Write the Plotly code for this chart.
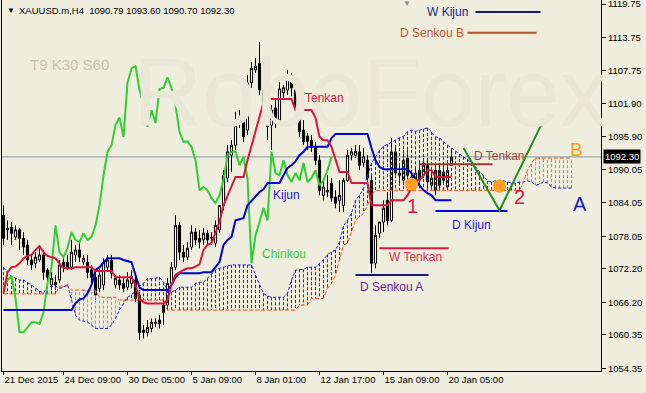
import plotly.graph_objects as go

# ---------------- data ----------------
bar_index = list(range(113))

opens = [
    1081.8, 1079.2, 1079.7, 1077.9, 1079.2, 1077.7, 1076.5, 1073.8, 1073.2, 1073.8,
    1074.7, 1072.0, 1069.3, 1069.8, 1070.2, 1073.4, 1073.4, 1072.5, 1074.7, 1075.6,
    1073.4, 1073.4, 1072.0, 1070.7, 1068.7, 1069.3, 1072.5, 1073.8, 1069.3, 1070.2,
    1069.6, 1068.9, 1069.6, 1070.2, 1067.5, 1061.2, 1060.8, 1061.5, 1062.4, 1063.0,
    1065.7, 1065.7, 1069.6, 1072.5, 1080.0, 1075.2, 1074.3, 1076.1, 1078.8, 1077.7,
    1077.4, 1078.6, 1077.7, 1076.8, 1079.2, 1083.6, 1088.5, 1092.6, 1094.4, 1098.4,
    1099.4, 1097.1, 1105.6, 1107.9, 1109.1, 1104.3, 1101.8, 1098.0, 1101.1, 1098.9,
    1103.8, 1104.3, 1106.6, 1104.3, 1101.6, 1097.1, 1096.0, 1095.3, 1094.1, 1091.7,
    1085.4, 1086.0, 1087.6, 1085.1, 1084.5, 1083.6, 1088.1, 1092.6, 1092.6, 1093.2,
    1091.2, 1091.7, 1088.1, 1073.2, 1078.6, 1080.6, 1084.5, 1080.9, 1093.2, 1089.4,
    1088.1, 1092.1, 1088.7, 1087.6, 1089.9, 1089.0, 1090.8, 1087.2, 1086.3, 1089.9,
    1089.6, 1086.9, 1090.79,
]
highs = [
    1083.6, 1080.9, 1080.6, 1080.0, 1079.5, 1078.8, 1077.4, 1074.7, 1075.2, 1075.9,
    1075.6, 1072.3, 1071.6, 1071.1, 1073.8, 1074.1, 1074.7, 1077.4, 1076.5, 1076.8,
    1074.7, 1074.7, 1072.9, 1071.6, 1072.3, 1074.1, 1074.7, 1074.7, 1071.1, 1071.1,
    1070.5, 1071.6, 1072.0, 1071.1, 1068.4, 1062.1, 1063.0, 1063.3, 1063.3, 1063.9,
    1066.6, 1070.5, 1073.4, 1081.8, 1080.6, 1076.5, 1077.0, 1080.0, 1079.5, 1079.2,
    1079.5, 1079.2, 1078.8, 1080.9, 1083.6, 1089.9, 1094.4, 1095.3, 1100.4, 1100.7,
    1100.7, 1107.0, 1109.3, 1110.1, 1112.9, 1105.2, 1102.9, 1101.6, 1102.5, 1105.7,
    1105.2, 1107.9, 1107.4, 1104.7, 1102.5, 1098.9, 1096.6, 1096.2, 1095.0, 1092.6,
    1088.5, 1089.0, 1088.5, 1086.3, 1088.1, 1088.5, 1093.5, 1093.9, 1094.4, 1094.4,
    1093.9, 1092.6, 1089.0, 1080.0, 1080.6, 1084.5, 1086.0, 1095.7, 1094.4, 1090.8,
    1093.5, 1093.5, 1089.9, 1090.3, 1091.7, 1092.1, 1091.7, 1089.6, 1090.8, 1090.8,
    1090.8, 1090.8, 1093.60,
]
lows = [
    1076.5, 1077.4, 1076.5, 1077.4, 1075.6, 1074.7, 1072.9, 1072.0, 1072.3, 1073.4,
    1070.2, 1069.3, 1068.4, 1068.4, 1069.6, 1071.6, 1072.0, 1072.0, 1073.4, 1073.4,
    1072.9, 1070.5, 1069.8, 1066.6, 1068.0, 1068.4, 1072.0, 1070.5, 1068.7, 1068.4,
    1068.0, 1068.4, 1068.7, 1066.2, 1059.4, 1059.7, 1060.1, 1060.8, 1061.7, 1061.5,
    1062.1, 1064.8, 1069.3, 1072.0, 1073.8, 1073.4, 1073.8, 1075.6, 1076.5, 1075.9,
    1076.5, 1076.5, 1076.5, 1076.1, 1078.6, 1082.7, 1087.8, 1089.6, 1093.5, 1097.5,
    1095.0, 1096.2, 1104.7, 1107.4, 1103.4, 1101.1, 1095.3, 1093.5, 1097.5, 1098.0,
    1102.5, 1103.4, 1103.2, 1099.8, 1095.9, 1094.4, 1093.5, 1093.2, 1090.8, 1085.4,
    1084.5, 1085.1, 1084.2, 1083.1, 1082.4, 1082.4, 1087.8, 1091.7, 1092.1, 1089.9,
    1090.5, 1087.8, 1071.4, 1072.3, 1077.7, 1078.8, 1080.0, 1080.6, 1089.0, 1087.2,
    1087.2, 1088.1, 1087.1, 1087.1, 1087.2, 1088.5, 1086.3, 1086.7, 1085.4, 1086.3,
    1087.8, 1086.3, 1090.70,
]
closes = [
    1077.7, 1079.5, 1078.6, 1079.2, 1077.7, 1076.1, 1073.8, 1072.9, 1074.3, 1074.7,
    1071.6, 1070.7, 1070.5, 1069.3, 1072.9, 1072.5, 1072.3, 1075.2, 1075.6, 1074.3,
    1074.1, 1071.6, 1070.7, 1067.5, 1071.1, 1073.4, 1073.8, 1071.4, 1070.5, 1069.3,
    1068.7, 1070.2, 1070.9, 1066.9, 1060.8, 1060.8, 1061.7, 1062.6, 1062.6, 1062.3,
    1064.4, 1069.6, 1072.5, 1080.0, 1075.2, 1074.3, 1075.9, 1078.8, 1077.4, 1077.0,
    1078.6, 1077.4, 1077.9, 1080.0, 1083.6, 1089.0, 1093.2, 1094.4, 1098.0, 1099.4,
    1095.9, 1105.6, 1108.2, 1108.6, 1104.3, 1101.8, 1097.7, 1100.7, 1098.4, 1104.5,
    1104.7, 1106.6, 1104.7, 1101.6, 1096.8, 1095.0, 1095.1, 1094.1, 1091.7, 1086.3,
    1086.9, 1086.3, 1084.9, 1084.0, 1085.4, 1088.1, 1092.6, 1093.2, 1093.3, 1090.8,
    1092.3, 1088.5, 1073.2, 1078.2, 1080.6, 1083.1, 1080.9, 1093.2, 1089.4, 1089.0,
    1091.7, 1089.0, 1087.8, 1089.4, 1088.1, 1091.2, 1087.8, 1088.5, 1089.9, 1087.2,
    1088.1, 1089.9, 1092.30,
]

tenkan = [
    1067.8, 1071.6, 1072.5, 1072.6, 1073.2, 1074.1, 1074.5, 1074.7, 1075.6, 1076.3,
    1075.2, 1074.5, 1074.3, 1074.1, 1073.2, 1072.3, 1072.3, 1072.3, 1072.5, 1072.5,
    1072.6, 1072.6, 1072.5, 1071.8, 1071.8, 1071.8, 1071.8, 1071.8, 1070.7, 1070.7,
    1070.7, 1070.7, 1070.7, 1069.3, 1066.9, 1066.2, 1066.0, 1066.0, 1066.0, 1066.0,
    1066.0, 1066.6, 1069.3, 1071.1, 1071.6, 1072.0, 1072.3, 1072.3, 1072.6, 1073.0,
    1075.6, 1076.5, 1076.8, 1078.8, 1080.6, 1083.6, 1085.4, 1087.2, 1088.7, 1088.7,
    1088.7, 1091.7, 1094.4, 1096.8, 1099.3, 1102.1, 1102.7, 1102.7, 1102.7, 1102.7,
    1102.7, 1102.7, 1102.7, 1100.7, 1100.7, 1100.7, 1100.7, 1100.7, 1099.3, 1095.9,
    1095.3, 1095.3, 1094.1, 1091.7, 1089.6, 1089.6, 1089.6, 1087.6, 1087.6, 1087.6,
    1087.6, 1087.6, 1083.6, 1083.6, 1083.6, 1083.6, 1083.6, 1084.5, 1084.5, 1084.5,
    1084.5, 1085.4, 1086.9, 1088.1, 1088.1, 1089.0, 1089.9, 1089.9, 1088.7, 1088.7,
    1088.7, 1088.7, 1088.7,
]
kijun = [
    1064.8, 1064.8, 1064.8, 1064.8, 1064.8, 1064.8, 1064.8, 1064.8, 1064.8, 1064.8,
    1064.8, 1064.8, 1064.8, 1064.8, 1064.8, 1064.8, 1064.8, 1064.8, 1066.0, 1066.7,
    1066.9, 1067.8, 1069.3, 1072.0, 1072.5, 1073.4, 1074.1, 1074.1, 1074.1, 1074.1,
    1073.8, 1073.6, 1073.4, 1071.1, 1068.9, 1068.4, 1068.4, 1068.4, 1068.4, 1068.4,
    1068.4, 1068.4, 1069.3, 1070.7, 1071.4, 1071.4, 1071.4, 1071.4, 1071.4, 1071.4,
    1071.6, 1071.6, 1071.6, 1072.5, 1073.4, 1076.5, 1077.4, 1077.9, 1080.9, 1081.1,
    1081.3, 1083.6, 1084.4, 1085.4, 1086.0, 1086.5, 1087.6, 1087.6, 1087.6, 1087.6,
    1089.0, 1090.3, 1090.8, 1091.5, 1092.6, 1093.2, 1094.1, 1094.1, 1094.1, 1094.1,
    1094.1, 1094.1, 1095.7, 1096.4, 1096.4, 1096.4, 1096.4, 1096.4, 1096.4, 1096.4,
    1096.4, 1096.4, 1093.9, 1091.7, 1090.5, 1090.1, 1090.1, 1090.1, 1090.1, 1090.1,
    1090.1, 1090.1, 1089.4, 1088.1, 1087.2, 1086.3, 1085.8, 1085.4, 1084.5, 1084.5,
    1084.5, 1084.5, 1084.5,
]
# Senkou spans are plotted 30 bars ahead (143 points)
senkou_a = [
    1072.5, 1071.4, 1070.9, 1070.5, 1070.2, 1070.2, 1069.8, 1069.3, 1068.7, 1068.2,
    1067.8, 1069.1, 1069.1, 1069.1, 1068.7, 1068.9, 1069.4, 1066.6, 1063.9, 1063.0,
    1062.8, 1062.6, 1062.1, 1061.5, 1061.5, 1061.5, 1061.5, 1062.1, 1063.3, 1064.8,
    1066.0, 1067.1, 1067.5, 1068.4, 1069.1, 1069.6, 1070.5, 1070.5, 1070.5, 1070.7,
    1069.8, 1068.4, 1068.0, 1068.4, 1068.9, 1068.9, 1068.9, 1068.9, 1069.6, 1069.8,
    1069.8, 1070.5, 1071.2, 1072.0, 1072.3, 1072.5, 1072.7, 1072.9, 1072.9, 1072.9,
    1072.9, 1072.9, 1072.9, 1071.1, 1069.3, 1067.8, 1067.3, 1067.1, 1067.1, 1067.1,
    1067.1, 1067.8, 1070.2, 1072.0, 1072.1, 1072.1, 1072.5, 1072.5, 1072.5, 1073.2,
    1073.8, 1074.8, 1075.2, 1075.6, 1077.0, 1079.9, 1080.9, 1082.2, 1084.5, 1085.4,
    1086.7, 1089.0, 1091.2, 1092.3, 1093.5, 1094.2, 1094.6, 1095.0, 1095.3, 1095.7,
    1096.0, 1096.8, 1097.1, 1096.9, 1097.1, 1097.3, 1097.5, 1096.8, 1095.9, 1095.7,
    1095.0, 1094.4, 1093.9, 1093.3, 1092.8, 1092.3, 1091.9, 1091.2, 1090.5, 1089.6,
    1088.9, 1088.0, 1087.8, 1088.0, 1088.1, 1088.0, 1087.8, 1087.6, 1087.6, 1087.8,
    1087.8, 1088.0, 1087.8, 1087.2, 1087.4, 1087.8, 1087.6, 1086.9, 1086.7, 1086.7,
    1086.7, 1086.7, 1086.7,
]
senkou_b = [
    1067.7, 1067.7, 1067.7, 1067.7, 1067.7, 1067.7, 1067.7, 1067.7, 1067.7, 1067.7,
    1067.7, 1067.7, 1067.7, 1067.7, 1069.1, 1069.1, 1069.1, 1068.4, 1068.4, 1068.4,
    1068.4, 1068.4, 1068.4, 1068.4, 1067.1, 1067.1, 1067.1, 1067.1, 1067.1, 1066.6,
    1066.6, 1066.6, 1066.6, 1066.6, 1066.6, 1066.6, 1066.6, 1066.6, 1066.6, 1066.6,
    1066.6, 1064.8, 1064.8, 1064.8, 1064.8, 1064.8, 1064.8, 1064.8, 1064.8, 1064.8,
    1064.8, 1064.8, 1064.8, 1064.8, 1064.8, 1064.8, 1064.8, 1064.8, 1064.8, 1064.8,
    1064.8, 1064.8, 1064.8, 1064.8, 1064.8, 1064.8, 1064.8, 1064.8, 1064.8, 1064.8,
    1064.8, 1064.8, 1064.8, 1064.8, 1065.7, 1065.7, 1065.7, 1066.9, 1066.9, 1066.9,
    1066.9, 1068.7, 1069.6, 1071.1, 1073.8, 1076.5, 1076.8, 1078.8, 1080.9, 1081.5,
    1082.2, 1083.6, 1085.4, 1086.3, 1086.3, 1086.3, 1086.3, 1086.3, 1086.3, 1086.3,
    1086.3, 1086.3, 1086.3, 1086.3, 1086.3, 1086.3, 1086.3, 1086.3, 1086.3, 1086.3,
    1086.3, 1086.3, 1086.3, 1086.3, 1086.3, 1086.3, 1086.3, 1086.3, 1086.3, 1086.3,
    1086.3, 1086.3, 1086.3, 1086.3, 1086.3, 1086.3, 1086.3, 1086.3, 1086.3, 1086.3,
    1087.8, 1089.9, 1091.2, 1092.1, 1092.1, 1092.1, 1092.1, 1092.1, 1092.1, 1092.1,
    1092.1, 1092.1, 1092.1,
]
chinkou_shift = 30

x_tick_bars = [0, 15, 31, 47, 63, 79, 95, 111]
x_tick_text = ["21 Dec 2015", "24 Dec 09:00", "30 Dec 05:00", "5 Jan 09:00",
               "8 Jan 01:00", "12 Jan 17:00", "15 Jan 09:00", "20 Jan 05:00"]
y_tick_vals = [1119.75, 1113.75, 1107.75, 1101.90, 1095.90, 1090.05,
               1084.05, 1078.05, 1072.20, 1066.20, 1060.35, 1054.35]
last_price = 1092.30

# ---------------- figure ----------------
BG = "#EFEDDE"
FONT = "Liberation Sans, Arial, sans-serif"
fig = go.Figure()

# Kumo hatching (one dotted vertical per bar)
hb_x, hb_y, ho_x, ho_y = [], [], [], []
for i, (a, b) in enumerate(zip(senkou_a, senkou_b)):
    if a >= b:
        hb_x += [i, i, None]
        hb_y += [a, b, None]
    else:
        ho_x += [i, i, None]
        ho_y += [a, b, None]
fig.add_trace(go.Scatter(x=hb_x, y=hb_y, mode="lines", hoverinfo="skip",
                         line=dict(color="#2020d4", width=1, dash="3px,2px")))
fig.add_trace(go.Scatter(x=ho_x, y=ho_y, mode="lines", hoverinfo="skip",
                         line=dict(color="#f47a4c", width=1, dash="3px,2px")))
span_x = list(range(len(senkou_a)))
fig.add_trace(go.Scatter(x=span_x, y=senkou_a, mode="lines", hoverinfo="skip",
                         line=dict(color="#1c1cd2", width=1, dash="3px,2px")))
fig.add_trace(go.Scatter(x=span_x, y=senkou_b, mode="lines", hoverinfo="skip",
                         line=dict(color="#ff4c14", width=1, dash="4px,2px")))

# candles
fig.add_trace(go.Candlestick(
    x=bar_index, open=opens, high=highs, low=lows, close=closes,
    increasing=dict(line=dict(color="black", width=1), fillcolor="white"),
    decreasing=dict(line=dict(color="black", width=1), fillcolor="black"),
    whiskerwidth=0, hoverinfo="skip"))

# Chinkou (close shifted back), Kijun, Tenkan
fig.add_trace(go.Scatter(x=[i - chinkou_shift for i in bar_index[chinkou_shift:]],
                         y=closes[chinkou_shift:], mode="lines", hoverinfo="skip",
                         line=dict(color="#32cd32", width=2)))
fig.add_trace(go.Scatter(x=bar_index, y=kijun, mode="lines", hoverinfo="skip",
                         line=dict(color="#0000cd", width=2)))
fig.add_trace(go.Scatter(x=bar_index, y=tenkan, mode="lines", hoverinfo="skip",
                         line=dict(color="#dc143c", width=2)))

# orange signal circles
fig.add_trace(go.Scatter(x=[102, 124], y=[1087.4, 1087.05], mode="markers", hoverinfo="skip",
                         marker=dict(size=13, color="#ffa01e", line=dict(width=0))))

shapes = []
def hline(x0, x1, y, color, w=2):
    shapes.append(dict(type="line", xref="x", yref="y", x0=x0, x1=x1, y0=y, y1=y,
                       line=dict(color=color, width=w)))

# current price line
shapes.append(dict(type="line", xref="paper", yref="y", x0=0, x1=1, y0=last_price, y1=last_price,
                   line=dict(color="#8796a8", width=1), layer="below"))
hline(118, 134.25, 1118.3, "#191970")      # W Kijun
hline(116, 133.25, 1114.6, "#b5562e")      # D Senkou B
hline(94, 111.25, 1075.9, "#dc143c")       # W Tenkan
hline(88, 106.25, 1071.1, "#191970")       # D Senkou A
hline(108, 126, 1082.6, "#0000dd")         # D Kijun
hline(104, 122.25, 1091.0, "#9b3b2c")      # D Tenkan
# green V projection
shapes.append(dict(type="path", xref="x", yref="y",
                   path="M 115,1093.9 L 124,1082.7 L 135,1098.9",
                   line=dict(color="#1f8f1f", width=2)))

ann = []
def txt(x, y, s, color, size=12, xref="x", yref="y", xanchor="center", **kw):
    d = dict(x=x, y=y, xref=xref, yref=yref, text=s, showarrow=False,
             xanchor=xanchor, yanchor="middle",
             font=dict(family=FONT, size=size, color=color))
    d.update(kw)
    ann.append(d)

# watermark
txt(0.615, 0.75, "RoboForex", "#EAE7D8", size=96, xref="paper", yref="paper")
txt(0.1135, 0.825, "T9 K30 S60", "#CBC0B5", size=15, xref="paper", yref="paper")
# header
txt(0.005, 0.973, "▼", "black", size=8, xref="paper", yref="paper", xanchor="left")
txt(0.025, 0.973, "XAUUSD.m,H4\u00a0\u00a01090.79\u00a01093.60\u00a01090.70\u00a01092.30",
    "black", size=9.5, xref="paper", yref="paper", xanchor="left")
txt(0.676, 0.99, "▼", "#8c8c8c", size=8, xref="paper", yref="paper")

txt(111, 1118.3, "W Kijun", "#26268f")
txt(107, 1114.6, "D Senkou B", "#c0582f")
txt(80.25, 1102.9, "Tenkan", "#dc143c")
txt(70.75, 1085.4, "Kijun", "#2222cc")
txt(70, 1074.8, "Chinkou", "#3ccc3c")
txt(103, 1074.3, "W Tenkan", "#e0284a")
txt(97, 1068.9, "D Senkou A", "#6a1e9a")
txt(117, 1080.0, "D Kijun", "#1e1ed0")
txt(123.75, 1092.44, "D Tenkan", "#a8403a")
txt(102.25, 1083.5, "1", "#dc143c", size=20)
txt(129, 1085.1, "2", "#dc143c", size=20)
txt(144, 1083.8, "A", "#1a1ad2", size=20)
txt(143.25, 1093.7, "B", "#ffa010", size=19)

# price tag on the axis
ann.append(dict(x=1, xref="paper", y=last_price, yref="y", text="1092.30", showarrow=False,
                xanchor="left", yanchor="middle", xshift=2, bgcolor="black", borderpad=1,
                font=dict(family=FONT, size=9.5, color="white")))

fig.update_layout(
    width=646, height=393,
    margin=dict(l=2, r=45, t=0, b=22, autoexpand=False),
    paper_bgcolor=BG, plot_bgcolor=BG,
    showlegend=False,
    boxgap=0.25,
    shapes=shapes, annotations=ann,
    xaxis=dict(range=[-0.375, 149.375], rangeslider=dict(visible=False),
               tickmode="array", tickvals=x_tick_bars, ticktext=x_tick_text,
               tickangle=0, ticks="outside", ticklen=3, tickcolor="black",
               ticklabelposition="outside right", ticklabeloverflow="allow",
               showline=True, linecolor="black", linewidth=1,
               showgrid=False, zeroline=False,
               tickfont=dict(family=FONT, size=9.5, color="black")),
    yaxis=dict(side="right", range=[1053.86, 1120.47],
               tickmode="array", tickvals=y_tick_vals,
               ticktext=["%.2f" % v for v in y_tick_vals],
               ticks="outside", ticklen=4, tickcolor="black", ticklabeloverflow="allow",
               showline=True, mirror=True, linecolor="black", linewidth=1,
               showgrid=False, zeroline=False,
               tickfont=dict(family=FONT, size=9.5, color="black")),
)

fig.write_html("out.html")
